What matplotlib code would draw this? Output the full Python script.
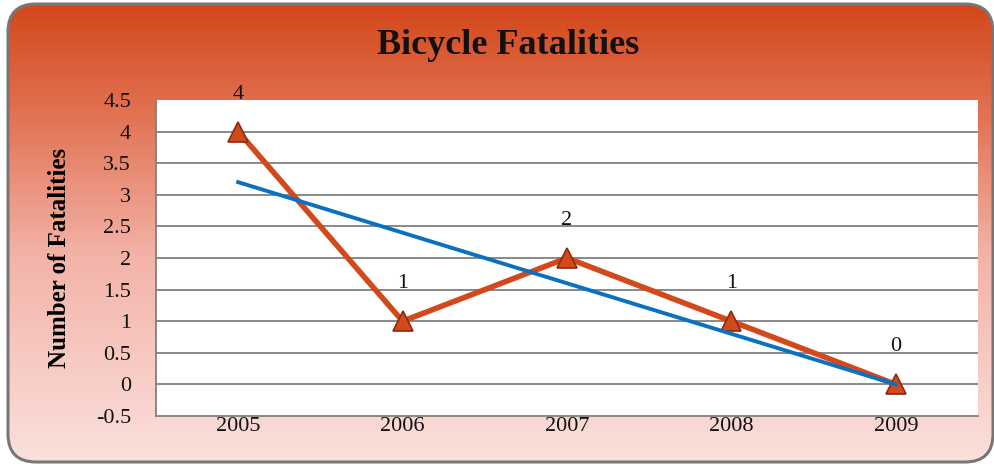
import numpy as np
import matplotlib
matplotlib.use("Agg")
import matplotlib.pyplot as plt
from matplotlib.patches import FancyBboxPatch
from matplotlib.colors import LinearSegmentedColormap

years = ["2005", "2006", "2007", "2008", "2009"]
fatalities = [4, 1, 2, 1, 0]
yticks = [-0.5, 0, 0.5, 1, 1.5, 2, 2.5, 3, 3.5, 4, 4.5]

plt.rcParams['font.family'] = ['Liberation Serif', 'DejaVu Serif']

W, H = 995, 467
fig = plt.figure(figsize=(W / 100, H / 100), dpi=100)

# background with rounded border and gradient
bg = fig.add_axes([0, 0, 1, 1])
bg.set_xlim(0, W)
bg.set_ylim(H, 0)
bg.axis('off')
cmap = LinearSegmentedColormap.from_list(
    'bg', [(0.0, '#d3471a'), (0.25, '#e27455'), (0.55, '#f3b3a8'), (1.0, '#fbe0dc')])
grad = np.linspace(0, 1, 256).reshape(-1, 1)
patch = FancyBboxPatch((8, 4), 985, 458, boxstyle="round,pad=0,rounding_size=28",
                       facecolor='none', edgecolor='#777777', linewidth=2.2, zorder=3)
bg.add_patch(patch)
im = bg.imshow(grad, cmap=cmap, extent=[8, 993, 462, 4], aspect='auto', zorder=1)
im.set_clip_path(patch)

fig.text(508 / W, 1 - 45 / H, "Bicycle Fatalities", ha='center', va='center',
         fontsize=26, fontweight='bold', color='#111111')

ax = fig.add_axes([156 / W, 1 - 416 / H, (978 - 156) / W, (416 - 100) / H])
ax.set_facecolor('white')
x = np.arange(len(years))
ax.set_xlim(-0.5, len(years) - 0.5)
ax.set_ylim(-0.5, 4.5)
ax.set_yticks(yticks)
ax.set_yticklabels([f"{t:g}" for t in yticks], fontsize=16)
ax.set_xticks(x)
ax.set_xticklabels(years, fontsize=16)
ax.tick_params(axis='both', length=0, colors='#111111')
ax.tick_params(axis='x', pad=1)
ax.tick_params(axis='y', pad=18)
for t in yticks[1:-1]:
    ax.axhline(t, color='#808080', linewidth=1.3, zorder=1)
for s in ['top', 'right']:
    ax.spines[s].set_visible(False)
for s in ['left', 'bottom']:
    ax.spines[s].set_color('#808080')
    ax.spines[s].set_linewidth(1.3)

ax.plot(x, fatalities, color='#d24a1c', linewidth=4, marker='^', markersize=14,
        markerfacecolor='#d24a1c', markeredgecolor='#8b2a10', markeredgewidth=1.2,
        zorder=3, clip_on=False)
coef = np.polyfit(x, fatalities, 1)
ax.plot(x, np.polyval(coef, x), color='#0a70c0', linewidth=2.8, zorder=4)

for xi, yi in zip(x, fatalities):
    ax.annotate(str(yi), (xi, yi), xytext=(0, 27), textcoords='offset points',
                ha='center', va='center', fontsize=16, color='#111111')

ax.set_ylabel("Number of Fatalities", fontsize=18, fontweight='bold', labelpad=18)

fig.savefig("out.png", dpi=100)
